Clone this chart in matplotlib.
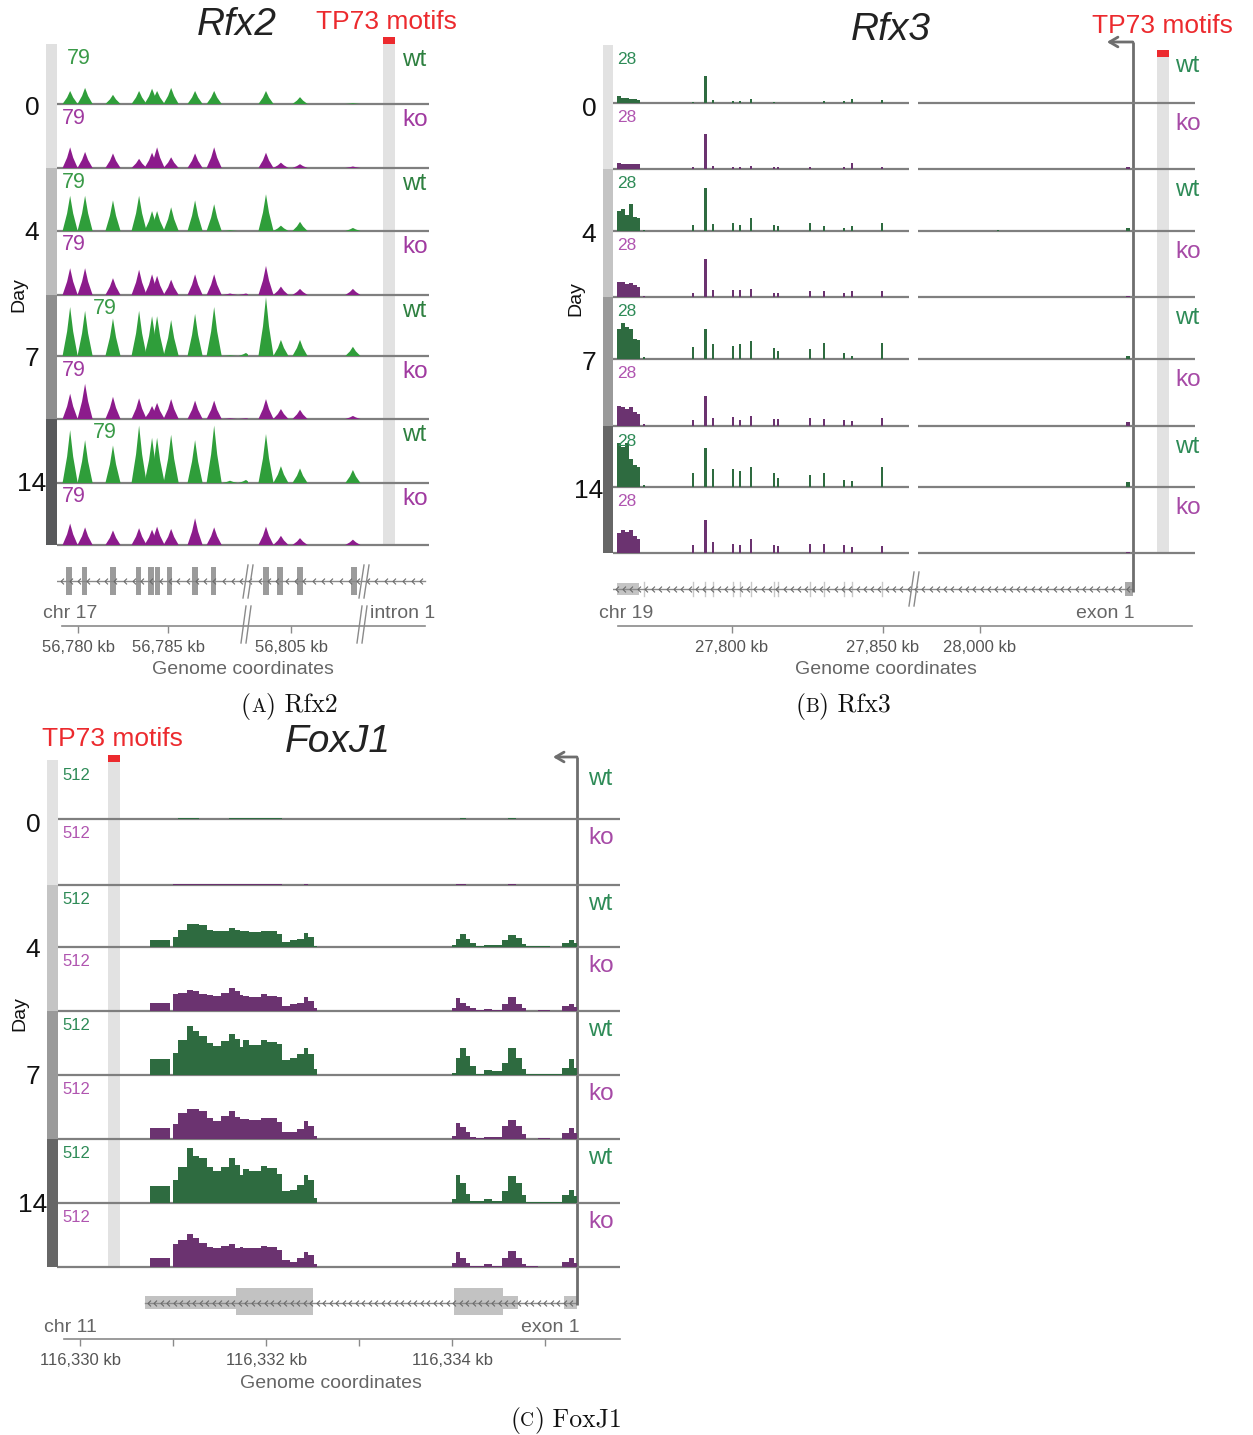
import numpy as np
import matplotlib
matplotlib.use("Agg")
import matplotlib.pyplot as plt
from matplotlib.path import Path
from matplotlib.patches import Rectangle
from matplotlib.offsetbox import TextArea, HPacker, AnnotationBbox

W, H = 1253, 1435
plt.rcParams['font.family'] = ['Liberation Sans', 'DejaVu Sans']

DAYS = ['0', '4', '7', '14']
GENOTYPES = ['wt', 'ko']

# ---------------- Rfx2, chr 17 (peak summits, signal 0-79) ----------------
RFX2_SCALE = 79
RFX2_PEAK_KB = [56779.56, 56780.39, 56781.94, 56783.39, 56784.11, 56784.39, 56785.17,
                56786.50, 56787.56, 56788.44, 56789.33, 56803.61, 56804.44, 56805.50,
                56808.44]
RFX2_D0_WT = [17, 21, 12, 17, 20, 17, 21, 17, 17, 0, 0, 17, 0, 9, 1]
RFX2_D0_KO = [27, 21, 19, 12, 20, 27, 14, 19, 27, 0, 0, 20, 7, 5, 2]
RFX2_D4_WT = [46, 46, 40, 46, 26, 26, 31, 40, 35, 1, 0, 48, 7, 12, 4]
RFX2_D4_KO = [35, 35, 22, 33, 27, 25, 20, 27, 27, 2, 2, 38, 11, 8, 8]
RFX2_D7_WT = [64, 59, 49, 59, 52, 52, 47, 55, 64, 1, 4, 77, 21, 21, 12]
RFX2_D7_KO = [33, 46, 29, 27, 17, 21, 26, 24, 24, 1, 1, 26, 13, 12, 4]
RFX2_D14_WT = [69, 56, 49, 75, 59, 59, 63, 56, 75, 3, 4, 64, 22, 19, 17]
RFX2_D14_KO = [28, 23, 19, 22, 20, 24, 21, 35, 23, 0, 0, 24, 12, 9, 7]
RFX2_EXON_KB = [56779.50, 56780.36, 56781.94, 56783.36, 56784.06, 56784.42, 56785.08,
                56786.50, 56787.53, 56803.61, 56804.39, 56805.50, 56808.50]
RFX2_MOTIF_KB = (56831.11, 56831.78)
RFX2_PIECES_KB = [(56778.83, 56789.44), (56802.61, 56809.00), (56830.00, 56833.67)]
RFX2_TICKS_KB = [56780, 56785, 56805]

# ---------------- Rfx3, chr 19 (binned signal 0-28) ----------------
RFX3_SCALE = 28
RFX3_BAR_KB = [27762.6, 27763.9, 27765.2, 27766.6, 27767.9, 27768.9, 27770.9, 27787.1,
               27791.1, 27793.7, 27800.3, 27802.6, 27806.3, 27813.9, 27815.2, 27825.8,
               27830.5, 27837.1, 27839.7, 27849.7, 28006.0, 28049.0]
RFX3_BAR_WIDTH_KB = [1.3, 1.3, 1.3, 1.3, 1.3, 1.3, 0.7, 0.7, 1.0, 0.7, 0.7, 0.7, 0.7,
                     0.7, 0.7, 0.7, 0.7, 0.7, 0.7, 0.7, 0.7, 1.3]
RFX3_D0_WT = [3.4, 2.4, 2.4, 1.9, 1.9, 1.4, 0, 0.5, 13.0, 1.4, 1.0, 1.0, 1.9, 0.5, 0, 0,
              1.0, 1.0, 1.9, 1.4, 0, 0]
RFX3_D0_KO = [2.9, 2.4, 2.4, 2.4, 2.4, 2.4, 0, 1.0, 16.8, 1.4, 1.0, 1.0, 1.4, 1.0, 1.0,
              1.0, 0, 1.0, 2.9, 1.0, 0, 1.0]
RFX3_D4_WT = [9.6, 10.6, 7.7, 13.0, 6.7, 6.2, 0.5, 2.9, 20.6, 3.4, 3.8, 2.9, 6.2, 2.9,
              2.4, 3.8, 2.4, 1.4, 2.4, 3.8, 0.5, 1.4]
RFX3_D4_KO = [7.2, 7.2, 6.2, 6.7, 5.8, 4.8, 0.5, 1.9, 18.2, 3.4, 3.4, 3.4, 3.8, 1.9, 1.9,
              2.9, 2.9, 1.9, 2.9, 2.9, 0, 0.5]
RFX3_D7_WT = [14.4, 17.3, 15.4, 14.4, 9.6, 9.1, 1.0, 5.8, 14.4, 7.2, 6.2, 7.2, 8.6, 5.3,
              3.8, 4.8, 7.7, 2.9, 1.4, 7.7, 0, 1.4]
RFX3_D7_KO = [9.6, 9.1, 8.2, 9.1, 6.7, 5.8, 1.0, 2.9, 14.4, 3.8, 4.3, 2.9, 4.8, 3.4, 3.4,
              3.8, 3.4, 2.9, 2.4, 3.8, 0, 1.9]
RFX3_D14_WT = [21.1, 19.2, 21.1, 13.4, 10.6, 9.6, 1.0, 6.7, 18.7, 8.6, 8.6, 7.7, 9.6, 6.7,
               4.3, 5.8, 6.7, 3.4, 2.9, 9.6, 0, 2.4]
RFX3_D14_KO = [9.6, 11.0, 10.1, 11.0, 8.2, 6.7, 0, 3.8, 15.8, 5.3, 4.3, 3.8, 6.7, 3.8, 3.4,
               4.3, 4.3, 3.8, 2.9, 3.4, 0, 0.5]
RFX3_EXON_KB = [27770.9, 27787.1, 27791.1, 27793.7, 27800.3, 27802.6, 27806.3, 27813.9,
                27815.2, 27825.8, 27830.5, 27837.1, 27839.7, 27849.7]
RFX3_LAST_EXON_KB = (27761.9, 27769.2)
RFX3_EXON1_KB = (28048.0, 28050.7)
RFX3_MOTIF_KB = (28058.6, 28062.6)
RFX3_PIECES_KB = [(27760.6, 27858.6), (27979.5, 28071.3)]
RFX3_TICKS_KB = [27800, 27850, 28000]

# ---------------- FoxJ1, chr 11 (binned signal 0-512) ----------------
FOXJ1_SCALE = 512
FOXJ1_BIN_EDGES_KB = [116330.75, 116330.96, 116331.00, 116331.05, 116331.15, 116331.21,
                      116331.28, 116331.36, 116331.43, 116331.51, 116331.60, 116331.66,
                      116331.72, 116331.75, 116331.81, 116331.94, 116332.01, 116332.12,
                      116332.17, 116332.25, 116332.33, 116332.40, 116332.45, 116332.51,
                      116332.55, 116334.00, 116334.04, 116334.08, 116334.15, 116334.19,
                      116334.25, 116334.34, 116334.43, 116334.53, 116334.60, 116334.69,
                      116334.75, 116334.79, 116334.92, 116335.05, 116335.18, 116335.25,
                      116335.31, 116335.34]
FOXJ1_D0_WT = [0, 0, 0, 8, 8, 8, 4, 4, 4, 4, 8, 6, 6, 6, 6, 6, 6, 6, 0, 0, 0, 4, 0, 0,
               0, 0, 0, 6, 0, 0, 0, 0, 0, 0, 6, 0, 0, 0, 0, 0, 0, 0, 0]
FOXJ1_D0_KO = [0, 0, 11, 11, 11, 11, 7, 7, 7, 7, 7, 7, 7, 7, 7, 7, 7, 7, 0, 0, 0, 6, 0, 0,
               0, 0, 6, 6, 0, 0, 0, 0, 0, 0, 6, 0, 0, 0, 0, 0, 0, 0, 0]
FOXJ1_D4_WT = [57, 0, 85, 147, 198, 196, 184, 142, 136, 136, 164, 147, 136, 136, 128, 133,
               133, 113, 43, 57, 71, 122, 85, 9, 0, 20, 71, 108, 65, 34, 9, 14, 14, 57,
               105, 79, 28, 6, 9, 3, 34, 57, 34]
FOXJ1_D4_KO = [65, 0, 147, 156, 176, 170, 147, 136, 128, 156, 193, 170, 136, 128, 119, 142,
               128, 119, 43, 57, 71, 119, 85, 23, 0, 23, 108, 71, 43, 23, 6, 14, 6, 62,
               119, 62, 23, 0, 6, 0, 43, 57, 34]
FOXJ1_D7_WT = [133, 0, 184, 295, 417, 374, 337, 272, 247, 289, 346, 303, 238, 295, 255, 295,
               281, 261, 125, 147, 176, 232, 176, 48, 0, 20, 147, 227, 162, 77, 11, 40, 34,
               105, 227, 147, 48, 11, 11, 6, 62, 133, 62]
FOXJ1_D7_KO = [94, 0, 128, 218, 255, 255, 241, 179, 150, 198, 241, 190, 170, 170, 162, 179,
               179, 142, 57, 62, 85, 156, 113, 28, 0, 28, 133, 99, 57, 14, 9, 20, 14, 113,
               164, 113, 43, 3, 6, 0, 51, 94, 48]
FOXJ1_D14_WT = [142, 0, 193, 306, 468, 405, 383, 306, 269, 306, 383, 326, 241, 292, 269,
                312, 298, 249, 99, 113, 150, 241, 198, 43, 0, 37, 241, 170, 77, 14, 14, 34,
                20, 99, 227, 170, 71, 6, 6, 9, 71, 113, 57]
FOXJ1_D14_KO = [79, 0, 193, 227, 278, 244, 207, 170, 159, 179, 198, 164, 170, 164, 164, 179,
                170, 142, 57, 45, 79, 130, 102, 28, 0, 37, 130, 79, 37, 9, 9, 23, 9, 79, 136,
                79, 23, 9, 3, 3, 45, 74, 37]
FOXJ1_UTR_KB = [(116330.70, 116331.67), (116334.55, 116334.71), (116335.20, 116335.34)]
FOXJ1_CDS_KB = [(116331.67, 116332.50), (116334.02, 116334.55)]
FOXJ1_TSS_KB = 116335.34
FOXJ1_MOTIF_KB = (116330.30, 116330.43)
FOXJ1_PIECES_KB = [(116329.749, 116335.803)]
FOXJ1_TICKS_KB = [116330, 116331, 116332, 116333, 116334, 116335]

# ---------------- styling ----------------
BASE_C = '#7f7f7f'
GREY_TXT = '#666666'
TICK_TXT = '#555555'
RED = '#ec2a2e'
MOTIF_GREY = '#e2e2e2'
CHEVRON = Path([(0.5, 1.0), (-0.5, 0.0), (0.5, -1.0)],
               [Path.MOVETO, Path.LINETO, Path.LINETO])

fig = plt.figure(figsize=(W / 100, H / 100), dpi=100)


def px_box(x0, y0, x1, y1):
    return [x0 / W, 1 - y1 / H, (x1 - x0) / W, (y1 - y0) / H]


def broken_scale(pieces_kb, pieces_px):
    kb = np.array([v for p in pieces_kb for v in p], float)
    px = np.array([v for p in pieces_px for v in p], float)

    def fwd(x):
        return np.interp(x, kb, px)

    def inv(p):
        return np.interp(p, px, kb)
    return fwd, inv


def scaled_axes(box, fwd, inv, x0, x1):
    ax = fig.add_axes(px_box(*box))
    ax.set_xscale('function', functions=(fwd, inv))
    ax.set_xlim(inv(x0), inv(x1))
    return ax


def gene_line(ax, inv, px0, px1, y, step):
    # intron line with strand chevrons, drawn over the exon boxes
    ax.plot([inv(px0), inv(px1)], [y, y], color='#8a8a8a', lw=1.0, zorder=6)
    pts = np.arange(px0 + step / 2, px1, step)
    ax.plot(inv(pts), np.full(len(pts), y), ls='none', marker=CHEVRON, ms=4.2,
            mec='#6a6a6a', mew=0.8, mfc='none', zorder=7)


def genome_axis(fwd, inv, x0, x1, y, ticks, labels):
    ax = scaled_axes((x0, y - 1, x1, y), fwd, inv, x0, x1)
    ax.patch.set_alpha(0)
    for s in ('left', 'right', 'top'):
        ax.spines[s].set_visible(False)
    ax.spines['bottom'].set_color('#8a8a8a')
    ax.spines['bottom'].set_linewidth(1.2)
    ax.set_yticks([])
    ax.set_xticks(ticks)
    ax.set_xticklabels(labels)
    ax.tick_params(axis='x', direction='out', length=5, width=1, color='#8a8a8a',
                   labelsize=12, labelcolor=TICK_TXT, pad=5)
    return ax


def draw_tracks(fwd, inv, x0, x1, top0, baselines, upp, tracks, draw_fn, segments_kb):
    tops = [top0] + baselines[:-1]
    for i, vals in enumerate(tracks):
        ax = scaled_axes((x0, tops[i], x1, baselines[i]), fwd, inv, x0, x1)
        ax.set_ylim(0, (baselines[i] - tops[i]) * upp)
        ax.axis('off')
        draw_fn(ax, vals, i % 2)
        for a, b in segments_kb:
            ax.plot([a, b], [0, 0], color=BASE_C, lw=1.6, clip_on=False,
                    solid_capstyle='butt', zorder=1)
    return tops


def motif_bar(pan, kb, y_top, y_bot):
    pan.add_patch(Rectangle((kb[0], y_top), kb[1] - kb[0], y_bot - y_top,
                            color=MOTIF_GREY, lw=0, zorder=0))
    pan.add_patch(Rectangle((kb[0], y_top - 7), kb[1] - kb[0], 7,
                            color=RED, lw=0, zorder=1))


def tss_arrow(pan, fwd, inv, tss_kb, y_top, y_bot, length_px):
    pan.plot([tss_kb, tss_kb], [y_top, y_bot], color='#6e6e6e', lw=2.0,
             solid_capstyle='butt', zorder=8)
    pan.annotate('', xy=(inv(fwd(tss_kb) - length_px), y_top), xytext=(tss_kb, y_top),
                 xycoords='data',
                 arrowprops=dict(arrowstyle='->,head_length=0.6,head_width=0.35',
                                 color='#6e6e6e', lw=2.0, shrinkA=0, shrinkB=0))


label_jobs = []   # text drawn on the top overlay


def side_labels(day_x0, day_x1, tops, baselines, day_colors, scale_txt, scale_x,
                scale_dy, scale_size, scale_colors, geno_x, geno_dy, geno_size,
                geno_colors):
    label_jobs.append(('days', day_x0, day_x1, tops, baselines, day_colors))
    for i in range(8):
        g = i % 2
        label_jobs.append(('text', scale_x[i], tops[i] + scale_dy, scale_txt,
                           dict(size=scale_size, color=scale_colors[g], ha='left', va='center')))
        label_jobs.append(('text', geno_x, tops[i] + geno_dy, GENOTYPES[g],
                           dict(size=geno_size, color=geno_colors[g], ha='left', va='center')))


# ======================= Panel A: Rfx2 =======================
A_X0, A_X1 = 57, 429
A_PIECES_PX = [(57, 248), (248, 363), (363, 429)]
A_TOP, A_BASE = 44, [104, 168, 231, 295, 356, 419, 483, 545]
fwdA, invA = broken_scale(RFX2_PIECES_KB, A_PIECES_PX)

panA = scaled_axes((A_X0, 30, A_X1, 660), fwdA, invA, A_X0, A_X1)
panA.set_ylim(660, 30)
panA.axis('off')
motif_bar(panA, RFX2_MOTIF_KB, A_TOP, A_BASE[-1])
gene_line(panA, invA, 57, 425, 581, 9)
for c in RFX2_EXON_KB:
    panA.add_patch(Rectangle((c - 0.15, 567), 0.3, 28, color='#9b9b9b', lw=0, zorder=4))

A_FILL = ['#2f9e3a', '#8c1b8c']


def draw_peaks(ax, vals, g):
    hw = 0.42
    for c, h in zip(RFX2_PEAK_KB, vals):
        if h > 0:
            ax.fill([c - hw, c - hw * 0.4, c, c + hw * 0.4, c + hw],
                    [0, h * 0.5, h, h * 0.5, 0], color=A_FILL[g], lw=0, zorder=2)


tracksA = [RFX2_D0_WT, RFX2_D0_KO, RFX2_D4_WT, RFX2_D4_KO,
           RFX2_D7_WT, RFX2_D7_KO, RFX2_D14_WT, RFX2_D14_KO]
topsA = draw_tracks(fwdA, invA, A_X0, A_X1, A_TOP, A_BASE, 79 / 60.5, tracksA,
                    draw_peaks, [(invA(A_X0), invA(A_X1))])
genome_axis(fwdA, invA, 62, 425, 626, RFX2_TICKS_KB,
            [f'{t:,} kb' for t in RFX2_TICKS_KB])
side_labels(46, 57, topsA, A_BASE, ['#e0e0e0', '#bcbcbc', '#8e8e8e', '#58595b'],
            str(RFX2_SCALE), [67, 62, 62, 62, 93, 62, 93, 62], 14, 15.5,
            ['#3a9a48', '#a03aa0'], 402, 16, 17.5, ['#2e8040', '#a03aa0'])

# ======================= Panel B: Rfx3 =======================
B_X0, B_X1 = 613, 1195
B_PIECES_PX = [(613, 909), (918, 1195)]
B_TOP, B_BASE = 45, [103, 169, 231, 297, 359, 426, 487, 553]
fwdB, invB = broken_scale(RFX3_PIECES_KB, B_PIECES_PX)

panB = scaled_axes((B_X0, 30, B_X1, 660), fwdB, invB, B_X0, B_X1)
panB.set_ylim(660, 30)
panB.axis('off')
motif_bar(panB, RFX3_MOTIF_KB, 57, B_BASE[-1])
gene_line(panB, invB, 613, 1133, 589, 7.3)
panB.add_patch(Rectangle((RFX3_LAST_EXON_KB[0], 583), RFX3_LAST_EXON_KB[1] - RFX3_LAST_EXON_KB[0],
                         12, color='#c4c4c4', lw=0, zorder=4))
for c in RFX3_EXON_KB:
    panB.plot([c, c], [582, 596], color='#c8c8c8', lw=1.0, zorder=4)
panB.add_patch(Rectangle((RFX3_EXON1_KB[0], 582), RFX3_EXON1_KB[1] - RFX3_EXON1_KB[0],
                         14, color='#aaaaaa', lw=0, zorder=4))
tss_arrow(panB, fwdB, invB, RFX3_EXON1_KB[1], 42, 592, 26)

BC_FILL = ['#2e6b40', '#6b3370']


def draw_bars(ax, vals, g):
    ax.bar(RFX3_BAR_KB, vals, width=RFX3_BAR_WIDTH_KB, color=BC_FILL[g], lw=0, zorder=2)


tracksB = [RFX3_D0_WT, RFX3_D0_KO, RFX3_D4_WT, RFX3_D4_KO,
           RFX3_D7_WT, RFX3_D7_KO, RFX3_D14_WT, RFX3_D14_KO]
topsB = draw_tracks(fwdB, invB, B_X0, B_X1, B_TOP, B_BASE, 28 / 58, tracksB,
                    draw_bars, RFX3_PIECES_KB)
genome_axis(fwdB, invB, 618, 1192, 626, RFX3_TICKS_KB,
            [f'{t:,} kb' for t in RFX3_TICKS_KB])
side_labels(603, 613, topsB, B_BASE, ['#e2e2e2', '#c4c4c4', '#9a9a9a', '#666666'],
            str(RFX3_SCALE), [617] * 8, 15, 12.5, ['#2e8b57', '#b055b0'],
            1175, 21, 17.5, ['#2e8b57', '#a64aa6'])

# ======================= Panel C: FoxJ1 =======================
C_X0, C_X1 = 57, 620
C_PIECES_PX = [(57, 620)]
C_TOP, C_BASE = 760, [819, 885, 947, 1011, 1075, 1139, 1203, 1267]
fwdC, invC = broken_scale(FOXJ1_PIECES_KB, C_PIECES_PX)

panC = scaled_axes((C_X0, 745, C_X1, 1345), fwdC, invC, C_X0, C_X1)
panC.set_ylim(1345, 745)
panC.axis('off')
motif_bar(panC, FOXJ1_MOTIF_KB, 762, C_BASE[-1])
gene_line(panC, invC, fwdC(FOXJ1_UTR_KB[0][0]), fwdC(FOXJ1_TSS_KB), 1303, 6.5)
for a, b in FOXJ1_UTR_KB:
    panC.add_patch(Rectangle((a, 1296), b - a, 13, color='#c2c2c2', lw=0, zorder=4))
for a, b in FOXJ1_CDS_KB:
    panC.add_patch(Rectangle((a, 1288), b - a, 27, color='#c2c2c2', lw=0, zorder=4))
tss_arrow(panC, fwdC, invC, FOXJ1_TSS_KB, 757, 1305, 24)


def draw_stairs(ax, vals, g):
    ax.stairs(vals, FOXJ1_BIN_EDGES_KB, fill=True, color=BC_FILL[g], lw=0, zorder=2)


tracksC = [FOXJ1_D0_WT, FOXJ1_D0_KO, FOXJ1_D4_WT, FOXJ1_D4_KO,
           FOXJ1_D7_WT, FOXJ1_D7_KO, FOXJ1_D14_WT, FOXJ1_D14_KO]
topsC = draw_tracks(fwdC, invC, C_X0, C_X1, C_TOP, C_BASE, 512 / 60, tracksC,
                    draw_stairs, FOXJ1_PIECES_KB)
genome_axis(fwdC, invC, 64, 620, 1339, FOXJ1_TICKS_KB,
            [f'{t:,} kb' if t % 2 == 0 else '' for t in FOXJ1_TICKS_KB])
side_labels(47, 58, topsC, C_BASE, ['#e2e2e2', '#c4c4c4', '#9a9a9a', '#666666'],
            str(FOXJ1_SCALE), [62] * 8, 15, 12, ['#2e8b57', '#b055b0'],
            588, 19, 17.5, ['#2e8b57', '#a64aa6'])

# ======================= overlay: labels, titles, captions =======================
ov = fig.add_axes([0, 0, 1, 1])
ov.set_xlim(0, W)
ov.set_ylim(H, 0)
ov.axis('off')
ov.set_zorder(10)

for job in label_jobs:
    if job[0] == 'days':
        _, dx0, dx1, tops, bases, cols = job
        for k in range(4):
            y0, y1 = tops[2 * k], bases[2 * k + 1]
            ov.add_patch(Rectangle((dx0, y0), dx1 - dx0, y1 - y0, color=cols[k], lw=0))
            ov.text(dx0 - 14, (y0 + y1) / 2 + 2, DAYS[k], size=19, ha='center',
                    va='center', color='#111111')
        ov.text(dx0 - 27, (tops[0] + bases[-1]) / 2, 'Day', size=14, rotation=90,
                ha='center', va='center', color='#111111')
    else:
        _, x, y, s, kw = job
        ov.text(x, y, s, **kw)


def break_mark(x, y0, y1):
    for dx in (-2.5, 2.5):
        ov.plot([x + dx - 2.5, x + dx + 2.5], [y1, y0], color='#8a8a8a', lw=1.0)


for xb in (248, 364):
    break_mark(xb, 565, 598)
    break_mark(xb - 2, 606, 643)
break_mark(914, 572, 606)

# titles
ov.text(237, 25, 'Rfx2', size=28, style='italic', ha='center', va='center', color='#222222')
ov.text(891, 30, 'Rfx3', size=28, style='italic', ha='center', va='center', color='#222222')
ov.text(338, 742, 'FoxJ1', size=28, style='italic', ha='center', va='center', color='#222222')
ov.text(316, 22, 'TP73 motifs', size=19, color=RED, ha='left', va='center')
ov.text(1092, 26, 'TP73 motifs', size=19, color=RED, ha='left', va='center')
ov.text(42, 739, 'TP73 motifs', size=19, color=RED, ha='left', va='center')

# chromosome / landmark labels
ov.text(43, 614, 'chr 17', size=14, color=GREY_TXT, ha='left', va='center')
ov.text(370, 614, 'intron 1', size=14, color=GREY_TXT, ha='left', va='center')
ov.text(599, 613, 'chr 19', size=14, color=GREY_TXT, ha='left', va='center')
ov.text(1135, 613, 'exon 1', size=14, color=GREY_TXT, ha='right', va='center')
ov.text(44, 1327, 'chr 11', size=14, color=GREY_TXT, ha='left', va='center')
ov.text(580, 1327, 'exon 1', size=14, color=GREY_TXT, ha='right', va='center')
for x, y in [(243, 669), (886, 669), (331, 1383)]:
    ov.text(x, y, 'Genome coordinates', size=14, color=GREY_TXT, ha='center', va='center')


def caption(x, y, letter, name):
    big = dict(family='cmr10', size=18.5, color='#111111')
    small = dict(family='cmr10', size=14, color='#111111')
    box = HPacker(children=[TextArea('(', textprops=big), TextArea(letter, textprops=small),
                            TextArea(')', textprops=big), TextArea(' ' + name, textprops=big)],
                  align='baseline', pad=0, sep=0)
    ov.add_artist(AnnotationBbox(box, (x, y), xycoords='data', frameon=False,
                                 box_alignment=(0.5, 0.5)))


caption(289, 706, 'A', 'Rfx2')
caption(843, 706, 'B', 'Rfx3')
caption(566, 1420, 'C', 'FoxJ1')

fig.savefig('out.png', dpi=100)
